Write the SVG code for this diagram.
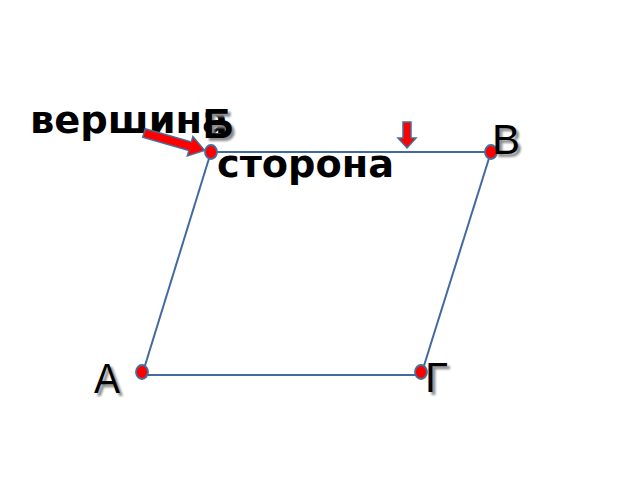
<svg xmlns="http://www.w3.org/2000/svg" width="640" height="480" viewBox="0 0 640 480">
<defs>
<filter id="sh" x="-20%" y="-20%" width="150%" height="150%">
<feGaussianBlur stdDeviation="1.2"/>
</filter>
<style>
.edge{stroke:#4269A0;stroke-width:2;fill:none}
.dot{fill:#FF0000;stroke:#41719C;stroke-width:1.8}
.arr{fill:#FF0000;stroke:#41719C;stroke-width:1.5;stroke-linejoin:miter}
.word{font-family:"DejaVu Sans",Verdana,sans-serif;font-weight:bold;font-size:38px;fill:#000}
.let{font-family:"Liberation Sans",Arial,sans-serif;font-size:42px;fill:#000}
.shd{fill:#8c8c8c;filter:url(#sh)}
</style>
</defs>
<rect width="640" height="480" fill="#fff"/>
<g id="connectors">
<line class="edge" x1="211" y1="152" x2="491" y2="152"/>
<line class="edge" x1="142" y1="375" x2="421" y2="375"/>
<line class="edge" x1="211" y1="152" x2="143" y2="372"/>
<line class="edge" x1="491" y1="152" x2="422" y2="372"/>
</g>
<g id="label-vershina">
<text class="word" x="30" y="133" textLength="198" lengthAdjust="spacingAndGlyphs">вершина</text>
</g>
<g id="label-storona">
<text class="word" x="217" y="177" textLength="177" lengthAdjust="spacingAndGlyphs">сторона</text>
</g>
<g id="arrow-vertex">
<path class="arr" d="M0,-4.5 L48,-4.5 L48,-10 L63,0 L48,10 L48,4.5 L0,4.5 Z" transform="translate(144,133) rotate(16)"/>
</g>
<g id="arrow-side">
<path class="arr" d="M403,122 L411,122 L411,138 L416,138 L407,148 L398,138 L403,138 Z"/>
</g>
<g id="node-B">
<text class="let shd" x="206" y="141" font-weight="bold">Б</text>
<text class="let" x="203" y="138" font-weight="bold">Б</text>
<ellipse class="dot" cx="211" cy="152" rx="6" ry="7"/>
</g>
<g id="node-V">
<ellipse class="dot" cx="491" cy="152" rx="6" ry="7"/>
<text class="let shd" x="495" y="157">В</text>
<text class="let" x="492" y="154">В</text>
</g>
<g id="node-A">
<ellipse class="dot" cx="142" cy="372" rx="6" ry="7"/>
<text class="let shd" x="97" y="396" font-size="45" textLength="26" lengthAdjust="spacingAndGlyphs">А</text>
<text class="let" x="94" y="393" font-size="45" textLength="26" lengthAdjust="spacingAndGlyphs">А</text>
</g>
<g id="node-G">
<ellipse class="dot" cx="421" cy="372" rx="6" ry="7"/>
<text class="let shd" x="428" y="395">Г</text>
<text class="let" x="425" y="392">Г</text>
</g>
</svg>
